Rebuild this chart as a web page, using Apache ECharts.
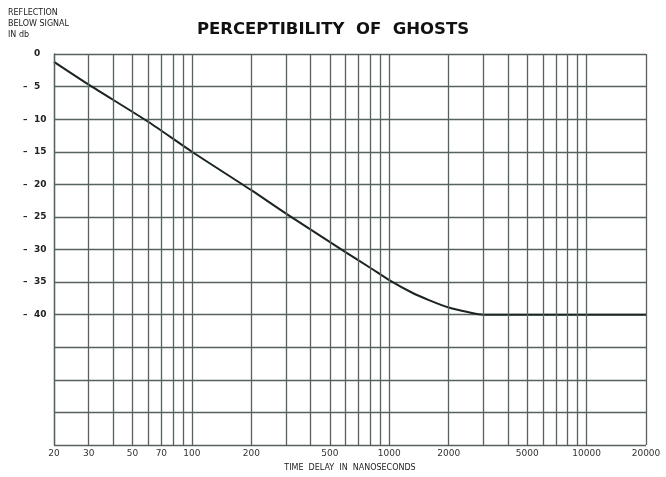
<!DOCTYPE html>
<html>
<head>
<meta charset="utf-8">
<script src="https://cdn.jsdelivr.net/npm/echarts@6/dist/echarts.min.js"></script>
<style>
  html, body { margin: 0; padding: 0; background: #fff; }
  #chart { width: 666px; height: 477px; }
</style>
</head>
<body>
<div id="chart"></div>
<script>
// time delay (ns) and reflection below signal (db)
var delays = [20, 30, 60, 100, 200, 300, 600, 800, 1000, 1300, 1600, 2000, 2500, 3000, 5000, 10000, 20000];
var reflection = [-1.2, -4.7, -10.4, -15.0, -20.9, -24.5, -30.4, -32.8, -34.7, -36.6, -37.8, -38.9, -39.6, -40, -40, -40, -40];

// vertical grid lines of the log paper
var gridDelays = [20, 30, 40, 50, 60, 70, 80, 90, 100, 200, 300, 400, 500, 600, 700, 800, 900, 1000,
  2000, 3000, 4000, 5000, 6000, 7000, 8000, 9000, 10000, 20000];
var xLabels = [20, 30, 50, 70, 100, 200, 500, 1000, 2000, 5000, 10000, 20000];

var ink = '#1a2422';
var gridInk = '#55625e';

var chart = echarts.init(document.getElementById('chart'));

var option = {
  animation: false,
  backgroundColor: '#fff',
  title: {
    text: 'PERCEPTIBILITY  OF  GHOSTS',
    left: 'center',
    top: 16,
    textStyle: { fontFamily: 'DejaVu Sans', fontSize: 16.5, fontWeight: 'bold', color: '#111' }
  },
  graphic: [{
    type: 'text',
    left: 8,
    top: 7,
    style: {
      text: 'REFLECTION\nBELOW SIGNAL\nIN db',
      fontFamily: 'DejaVu Sans',
      fontSize: 8,
      lineHeight: 11,
      fill: '#222'
    }
  }],
  grid: { left: 54, right: 20, top: 54, bottom: 29 },
  xAxis: {
    type: 'log',
    min: 20,
    max: 20000,
    name: 'TIME  DELAY  IN  NANOSECONDS',
    nameLocation: 'middle',
    nameGap: 19,
    nameTextStyle: { fontFamily: 'DejaVu Sans', fontSize: 8, color: '#222' },
    axisLine: { show: false },
    axisTick: { show: false },
    splitLine: { show: false },
    axisLabel: {
      customValues: xLabels,
      margin: 4,
      fontFamily: 'DejaVu Sans',
      fontSize: 9,
      color: '#333',
      formatter: function (v) { return String(Math.round(v)); }
    }
  },
  yAxis: {
    type: 'value',
    min: -60,
    max: 0,
    interval: 5,
    axisLine: { show: true, lineStyle: { color: gridInk, width: 1.3 } },
    axisTick: { show: false },
    splitLine: { show: true, lineStyle: { color: gridInk, width: 1.3 } },
    axisLabel: {
      align: 'left',
      margin: 31,
      fontFamily: 'DejaVu Sans',
      fontSize: 9,
      fontWeight: 'bold',
      color: '#222',
      formatter: function (v) {
        if (v < -40) return '';
        if (v === 0) return '{d| }{n|0}';
        return '{d|\u2013}{n|' + Math.abs(v) + '}';
      },
      rich: {
        d: { width: 11, fontSize: 9, fontWeight: 'bold', color: '#222' },
        n: { fontSize: 9, fontWeight: 'bold', color: '#222' }
      }
    }
  },
  series: [{
    type: 'line',
    data: delays.map(function (d, i) { return [d, reflection[i]]; }),
    showSymbol: false,
    smooth: 0.25,
    lineStyle: { color: ink, width: 2 },
    markLine: {
      silent: true,
      symbol: 'none',
      label: { show: false },
      lineStyle: { color: gridInk, width: 1.3, type: 'solid' },
      data: gridDelays.map(function (d) { return { xAxis: d }; })
    }
  }]
};

chart.setOption(option);
</script>
</body>
</html>
